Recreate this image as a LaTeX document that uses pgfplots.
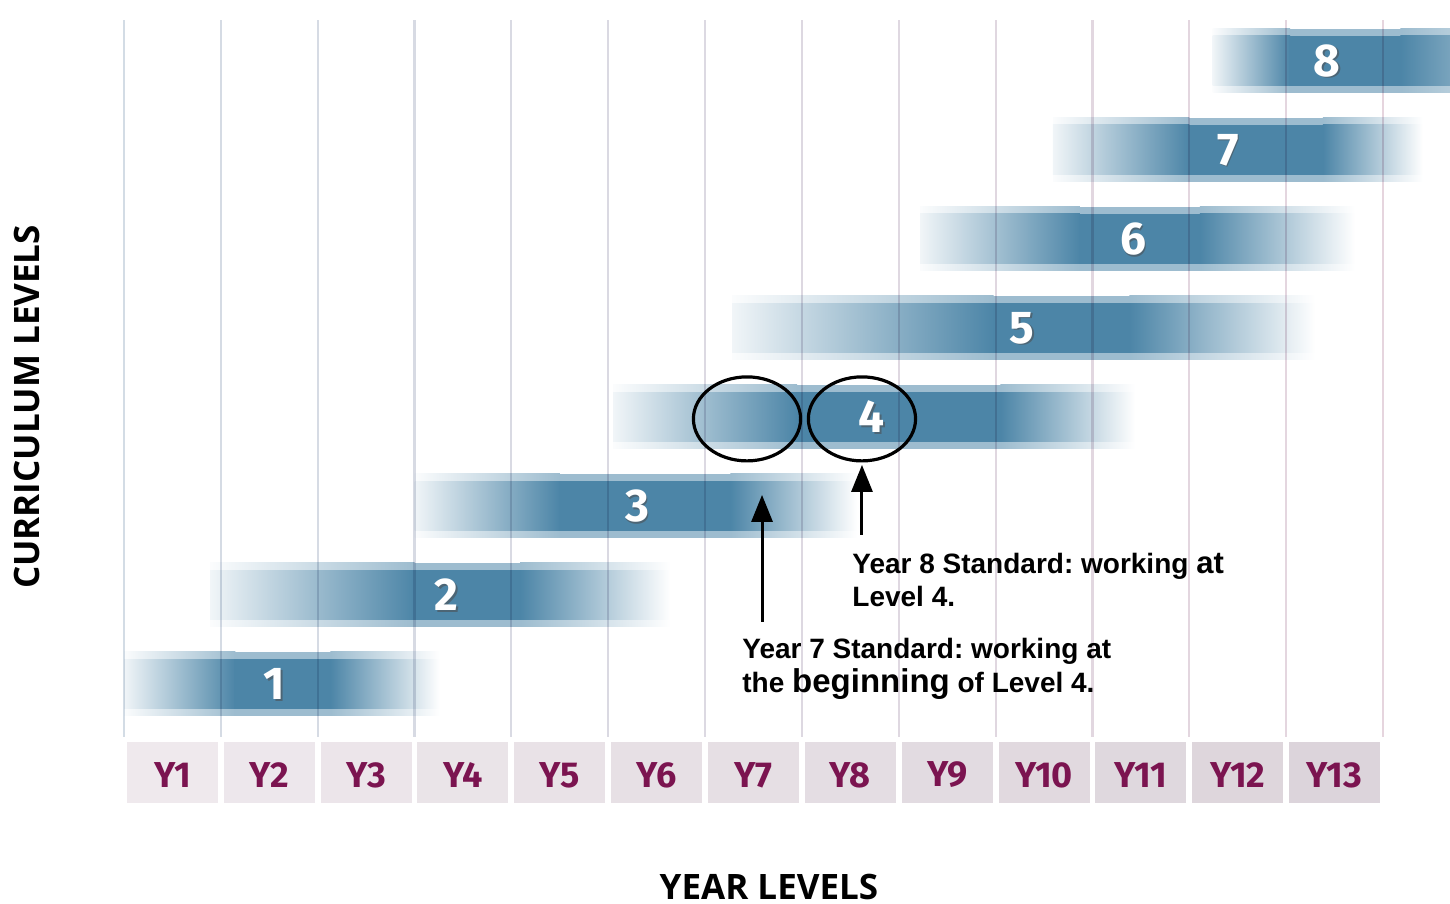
\documentclass[border=0pt]{standalone}
\usepackage{pgfplots}
\pgfplotsset{compat=1.18}
\usepackage{fontspec}
\setmainfont{Liberation Sans}
\newfontfamily\opensans{Open Sans}
\newfontfamily\din{Fira Sans}
\usetikzlibrary{arrows.meta}
\frenchspacing
\definecolor{barc}{HTML}{4C85A7}
\colorlet{barh}{barc!55}
\definecolor{gridb}{HTML}{D3DCE5}
\definecolor{gridp}{HTML}{E6D5DE}
\definecolor{boxa}{HTML}{EFE9ED}
\definecolor{boxb}{HTML}{DCD4DB}
\definecolor{tickc}{HTML}{7B1450}

% level bar: #1 level, #2 start, #3 full from, #4 full to, #5 end, #6 right-end strength
\newcommand{\lvl}[6]{%
 \pgfmathsetmacro\lvHB{#1-0.36}\pgfmathsetmacro\lvHT{#1+0.36}%
 \pgfmathsetmacro\lvCB{#1-0.28}\pgfmathsetmacro\lvCT{#1+0.28}%
 \pgfmathsetmacro\lvMA{#3-0.01}\pgfmathsetmacro\lvMB{#4+0.01}%
 \addplot[draw=none,forget plot,left color=barh!4,right color=barh] coordinates {(#2,\lvHB) (#3,\lvHB) (#3,\lvHT) (#2,\lvHT)} --cycle;
 \addplot[draw=none,forget plot,left color=barh,right color=barh!#6] coordinates {(#4,\lvHB) (#5,\lvHB) (#5,\lvHT) (#4,\lvHT)} --cycle;
 \addplot[draw=none,forget plot,fill=barh] coordinates {(\lvMA,\lvHB) (\lvMB,\lvHB) (\lvMB,\lvHT) (\lvMA,\lvHT)} --cycle;
 \addplot[draw=none,forget plot,left color=barc!8,right color=barc] coordinates {(#2,\lvCB) (#3,\lvCB) (#3,\lvCT) (#2,\lvCT)} --cycle;
 \addplot[draw=none,forget plot,left color=barc,right color=barc!#6] coordinates {(#4,\lvCB) (#5,\lvCB) (#5,\lvCT) (#4,\lvCT)} --cycle;
 \addplot[draw=none,forget plot,fill=barc] coordinates {(\lvMA,\lvCB) (\lvMB,\lvCB) (\lvMB,\lvCT) (\lvMA,\lvCT)} --cycle;
}
\newcommand{\ybox}[3]{\addplot[draw=none,forget plot,fill=boxb!#3!boxa] coordinates {(#1,-0.337) (#2,-0.337) (#2,0.348) (#1,0.348)} --cycle;}
\newcommand{\gl}[2]{\addplot[forget plot,line width=1.1pt,color=gridp!#2!gridb,blend mode=multiply] coordinates {(#1,0.404) (#1,8.46)};}
\newcommand{\num}[3]{%
 \node[text=black!70,opacity=0.55,font=\din\bfseries\fontsize{23}{23}\selectfont] at ([xshift=0.8pt,yshift=-0.8pt]axis cs:#1,#2) {#3};
 \node[text=white,font=\din\bfseries\fontsize{23}{23}\selectfont] at (axis cs:#1,#2) {#3};}

\begin{document}
\begin{tikzpicture}
\begin{axis}[
  at={(62pt,83.5pt)}, anchor=south west,
  scale only axis, width=629.5pt, height=358.5pt,
  xmin=0, xmax=13, ymin=0.404, ymax=8.46,
  clip=false, axis on top,
  axis line style={draw=none},
  major tick length=0pt,
  ytick=\empty,
  xtick={0.5,1.5,2.5,3.5,4.5,5.5,6.5,7.5,8.5,9.5,10.5,11.5,12.5},
  xticklabels={Y1,Y2,Y3,Y4,Y5,Y6,Y7,Y8,Y9,Y10,Y11,Y12,Y13},
  xticklabel style={anchor=center, yshift=-19pt, text=tickc,
    font=\din\bfseries\fontsize{18}{18}\selectfont},
]
% year boxes
\ybox{0.03}{0.97}{0}
\ybox{1.03}{1.97}{8}
\ybox{2.03}{2.97}{17}
\ybox{3.03}{3.97}{25}
\ybox{4.03}{4.97}{33}
\ybox{5.03}{5.97}{42}
\ybox{6.03}{6.97}{50}
\ybox{7.03}{7.97}{58}
\ybox{8.03}{8.97}{67}
\ybox{9.03}{9.97}{75}
\ybox{10.03}{10.97}{83}
\ybox{11.03}{11.97}{92}
\ybox{12.03}{12.97}{100}
% level bars
\lvl{1}{0.00}{1.15}{2.13}{3.26}{0}
\lvl{2}{0.89}{3.00}{4.09}{5.64}{0}
\lvl{3}{3.00}{4.50}{6.26}{7.57}{0}
\lvl{4}{5.05}{6.95}{9.05}{10.44}{0}
\lvl{5}{6.28}{8.98}{10.38}{12.30}{0}
\lvl{6}{8.22}{9.87}{11.11}{12.71}{0}
\lvl{7}{9.59}{11.00}{12.38}{13.41}{0}
\lvl{8}{11.24}{12.04}{13.18}{13.69}{75}
% grid lines
\gl{0}{0}\gl{1}{8}\gl{2}{15}\gl{3}{23}\gl{4}{31}\gl{5}{38}\gl{6}{46}
\gl{7}{54}\gl{8}{62}\gl{9}{69}\gl{10}{77}\gl{11}{85}\gl{12}{92}\gl{13}{100}
% level numbers
\num{1.55}{1}{1}
\num{3.33}{2}{2}
\num{5.30}{3}{3}
\num{7.72}{4}{4}
\num{9.27}{5}{5}
\num{10.42}{6}{6}
\num{11.40}{7}{7}
\num{12.42}{8}{8}
% annotations
\draw[line width=1.6pt] (axis cs:6.433,3.978) ellipse [x radius=26.8pt, y radius=21pt];
\draw[line width=1.6pt] (axis cs:7.620,3.978) ellipse [x radius=26.8pt, y radius=21pt];
\draw[line width=1.5pt,-{Triangle[length=13.5pt,width=10.5pt]}] (axis cs:6.588,1.697) -- (axis cs:6.588,3.124);
\draw[line width=1.5pt,-{Triangle[length=13.5pt,width=10.5pt]}] (axis cs:7.620,2.674) -- (axis cs:7.620,3.461);
\node[anchor=base west,inner sep=0pt,font=\bfseries\fontsize{14}{16}\selectfont] at (axis cs:7.517,2.245) {Year 8 Standard: working {\fontsize{15.5}{16}\selectfont at}};
\node[anchor=base west,inner sep=0pt,font=\bfseries\fontsize{14}{16}\selectfont] at (axis cs:7.517,1.875) {Level 4.};
\node[anchor=base west,inner sep=0pt,font=\bfseries\fontsize{14}{16}\selectfont] at (axis cs:6.381,1.290) {Year 7 Standard: working at};
\node[anchor=base west,inner sep=0pt,font=\bfseries\fontsize{14}{16}\selectfont] at (axis cs:6.381,0.908) {the {\fontsize{16.5}{17}\selectfont beginning} of Level 4.};
% axis titles
\node[rotate=90,inner sep=0pt,font=\opensans\bfseries\fontsize{17.5}{18}\selectfont] at (axis cs:-1.0016,4.112) {CURRICULUM LEVELS};
\node[inner sep=0pt,font=\opensans\bfseries\fontsize{17.5}{18}\selectfont] at (axis cs:6.66,-1.285) {YEAR LEVELS};
\end{axis}
\pgfresetboundingbox
\path[use as bounding box] (0,0) rectangle (725pt,452pt);
\end{tikzpicture}
\end{document}
